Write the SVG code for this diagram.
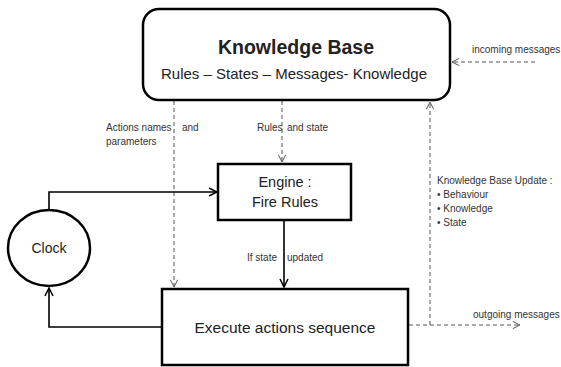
<svg xmlns="http://www.w3.org/2000/svg" width="561" height="367" viewBox="0 0 561 367">
  <style>
    .box { fill: #fff; stroke: #000; stroke-width: 2.5; }
    .solid { fill: none; stroke: #000; stroke-width: 1.6; }
    .dash { fill: none; stroke: #555; stroke-width: 1; stroke-dasharray: 4 3; }
    text { font-family: "Liberation Sans", Arial, sans-serif; fill: #222; }
    .small { font-size: 10px; fill: #333; }
    .mid { font-size: 14.5px; text-anchor: middle; }
  </style>
  <defs>
    <marker id="open" viewBox="0 0 10 10" refX="9" refY="5" markerWidth="10" markerHeight="10" markerUnits="userSpaceOnUse" orient="auto">
      <path d="M1,1 L9,5 L1,9" fill="none" stroke="#000" stroke-width="1.5"/>
    </marker>
    <marker id="openDash" viewBox="0 0 10 10" refX="9" refY="5" markerWidth="9" markerHeight="9" markerUnits="userSpaceOnUse" orient="auto">
      <path d="M1,1 L9,5 L1,9" fill="none" stroke="#555" stroke-width="1.1"/>
    </marker>
  </defs>

  <g id="connectors">
    <!-- knowledge base to engine / executor -->
    <path class="dash" d="M174,101 V287" marker-end="url(#openDash)"/>
    <path class="dash" d="M282,101 V162" marker-end="url(#openDash)"/>
    <!-- engine to executor -->
    <path class="solid" d="M284,221 V287" marker-end="url(#open)"/>
    <!-- clock loop -->
    <path class="solid" d="M49,210 V192 H217" marker-end="url(#open)"/>
    <path class="solid" d="M161,327 H49 V288" marker-end="url(#open)"/>
    <!-- update and messages -->
    <path class="dash" d="M409,325 H430 V102" marker-end="url(#openDash)"/>
    <path class="dash" d="M430,325 H520" marker-end="url(#openDash)"/>
    <path class="dash" d="M535,62 H452" marker-end="url(#openDash)"/>
  </g>

  <g id="knowledge-base">
    <rect class="box" x="143" y="9" width="307" height="91" rx="16"/>
    <text x="296" y="54" text-anchor="middle" font-size="19.5" font-weight="bold" fill="#000">Knowledge Base</text>
    <text x="294" y="79" text-anchor="middle" font-size="15">Rules – States – Messages- Knowledge</text>
  </g>

  <g id="engine">
    <rect class="box" x="218" y="164" width="133" height="56"/>
    <text class="mid" x="285" y="187">Engine :</text>
    <text class="mid" x="285" y="207">Fire Rules</text>
  </g>

  <g id="clock">
    <ellipse class="box" cx="49" cy="248" rx="41" ry="38"/>
    <text x="49" y="253" text-anchor="middle" font-size="14">Clock</text>
  </g>

  <g id="executor">
    <rect class="box" x="162" y="289" width="246" height="76"/>
    <text x="285" y="333" text-anchor="middle" font-size="15.5">Execute actions sequence</text>
  </g>

  <g id="labels">
    <text class="small"><tspan x="106" y="131">Actions names</tspan><tspan x="182" y="131">and</tspan><tspan x="106" y="145">parameters</tspan></text>
    <text class="small"><tspan x="257" y="131">Rules</tspan><tspan x="287" y="131">and state</tspan></text>
    <text class="small"><tspan x="277" y="261" text-anchor="end">If state</tspan><tspan x="287" y="261">updated</tspan></text>
    <text class="small" x="472" y="53">incoming messages</text>
    <text class="small" x="473" y="318">outgoing messages</text>
    <text class="small" font-size="9.6">
      <tspan x="437" y="184">Knowledge Base Update :</tspan>
      <tspan x="437" y="198">• Behaviour</tspan>
      <tspan x="437" y="212">• Knowledge</tspan>
      <tspan x="437" y="226">• State</tspan>
    </text>
  </g>
</svg>
